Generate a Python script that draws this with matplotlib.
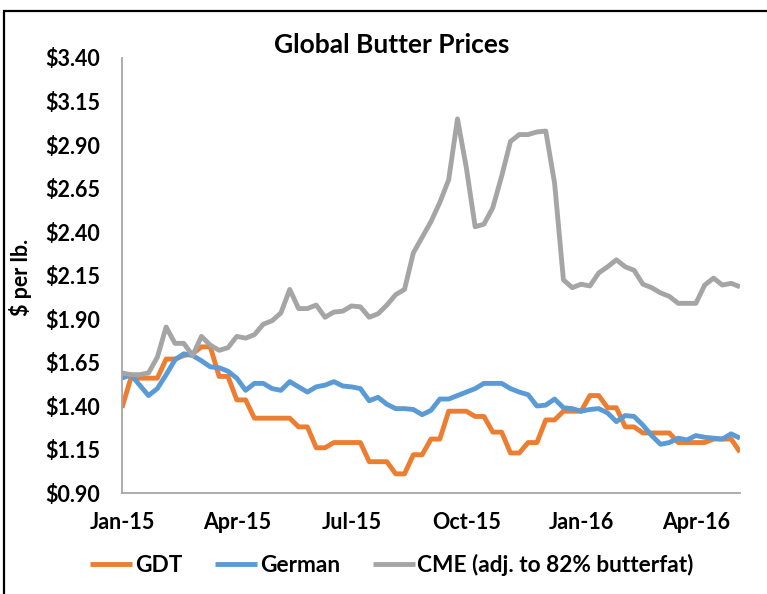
import matplotlib
matplotlib.use("Agg")
import matplotlib.pyplot as plt
from matplotlib.patches import Rectangle

# Weekly observations (index 0 = first week of Jan-2015)
tick_labels = ["Jan-15", "Apr-15", "Jul-15", "Oct-15", "Jan-16", "Apr-16"]
tick_positions = [0, 13, 26, 39, 52, 65]

gdt = [1.39, 1.56, 1.56, 1.56, 1.56, 1.67, 1.67, 1.69, 1.70, 1.74,
       1.74, 1.57, 1.57, 1.435, 1.435, 1.33, 1.33, 1.33, 1.33, 1.33,
       1.28, 1.28, 1.16, 1.16, 1.19, 1.19, 1.19, 1.19, 1.08, 1.08,
       1.08, 1.01, 1.01, 1.12, 1.12, 1.21, 1.21, 1.37, 1.37, 1.37,
       1.34, 1.34, 1.25, 1.25, 1.13, 1.13, 1.19, 1.19, 1.32, 1.32,
       1.37, 1.37, 1.37, 1.46, 1.46, 1.39, 1.39, 1.28, 1.28, 1.245,
       1.245, 1.245, 1.245, 1.19, 1.19, 1.19, 1.19, 1.21, 1.21, 1.21,
       1.135]

german = [1.56, 1.58, 1.52, 1.46, 1.50, 1.58, 1.665, 1.70, 1.69, 1.66,
          1.625, 1.62, 1.60, 1.56, 1.49, 1.53, 1.53, 1.50, 1.49, 1.54,
          1.51, 1.48, 1.51, 1.52, 1.54, 1.515, 1.51, 1.50, 1.43, 1.45,
          1.41, 1.385, 1.385, 1.38, 1.35, 1.375, 1.44, 1.44, 1.46, 1.48,
          1.50, 1.53, 1.53, 1.53, 1.50, 1.48, 1.465, 1.40, 1.405, 1.44,
          1.39, 1.385, 1.37, 1.38, 1.385, 1.36, 1.31, 1.345, 1.34, 1.29,
          1.23, 1.18, 1.19, 1.215, 1.205, 1.23, 1.22, 1.215, 1.21, 1.24,
          1.215]

cme = [1.59, 1.58, 1.58, 1.59, 1.68, 1.854, 1.76, 1.76, 1.69, 1.80,
       1.75, 1.72, 1.735, 1.80, 1.79, 1.81, 1.87, 1.89, 1.935, 2.07,
       1.96, 1.96, 1.98, 1.91, 1.94, 1.945, 1.975, 1.97, 1.91, 1.93,
       1.98, 2.04, 2.07, 2.28, 2.37, 2.46, 2.57, 2.70, 3.05, 2.77,
       2.43, 2.445, 2.54, 2.72, 2.92, 2.96, 2.96, 2.975, 2.98, 2.68,
       2.125, 2.08, 2.10, 2.09, 2.165, 2.20, 2.24, 2.20, 2.18, 2.10,
       2.08, 2.05, 2.03, 1.99, 1.99, 1.99, 2.095, 2.135, 2.095, 2.105,
       2.085]

series_names = ["GDT", "German", "CME (adj. to 82% butterfat)"]
colors = ["#ED7D31", "#5B9BD5", "#A5A5A5"]

y_ticks = [0.90, 1.15, 1.40, 1.65, 1.90, 2.15, 2.40, 2.65, 2.90, 3.15, 3.40]

plt.rcParams['font.family'] = ['Lato', 'DejaVu Sans']

fig = plt.figure(figsize=(7.67, 5.94), dpi=100)
ax = fig.add_axes([122/767, 1-493/594, (740-122)/767, (493-58)/594])

x = list(range(len(gdt)))
for vals, name, c in zip([gdt, german, cme], series_names, colors):
    ax.plot(x, vals, color=c, lw=3.5, label=name, solid_joinstyle='round',
            solid_capstyle='butt')

ax.set_xlim(0, len(gdt) - 1)
ax.set_ylim(0.90, 3.40)
ax.set_yticks(y_ticks)
ax.set_yticklabels([f"${v:.2f}" for v in y_ticks], fontweight='bold', fontsize=15.5)
ax.set_xticks(tick_positions)
ax.set_xticklabels(tick_labels, fontweight='bold', fontsize=15.5)
ax.tick_params(axis='both', length=0)
ax.tick_params(axis='y', pad=16)
ax.tick_params(axis='x', pad=14)
for s in ['top', 'right']:
    ax.spines[s].set_visible(False)
for s in ['left', 'bottom']:
    ax.spines[s].set_color('#A6A6A6')
    ax.spines[s].set_linewidth(1.3)

ax.set_ylabel("$ per lb.", fontweight='bold', fontsize=15.5)
ax.yaxis.set_label_coords((32-122)/(740-122), (493-277)/(493-58))

fig.text(392/767, 1-45/594, "Global Butter Prices", ha='center', va='center',
         fontweight='bold', fontsize=19)

fig.legend(loc='center', bbox_to_anchor=(392/767, 1-565/594), ncol=3,
           frameon=False, handlelength=1.85, handletextpad=0.12,
           columnspacing=1.45, prop={'weight': 'bold', 'size': 16.3})

fig.patches.append(Rectangle((4/767, -0.05), 1.05, 1.05-11/594,
                             transform=fig.transFigure, fill=False,
                             edgecolor='black', lw=1.6))

fig.savefig("out.png", dpi=100)
